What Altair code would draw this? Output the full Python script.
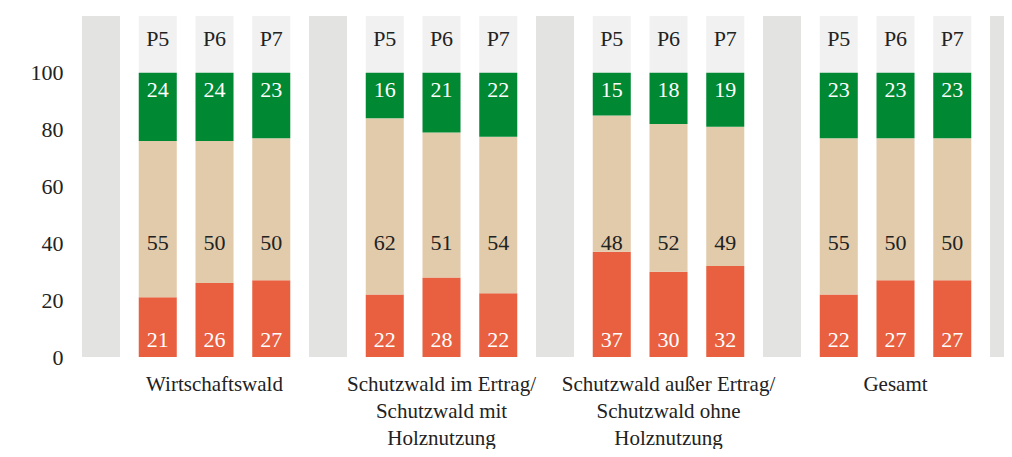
import altair as alt
import pandas as pd

groups = [
    "Wirtschaftswald",
    "Schutzwald im Ertrag/\nSchutzwald mit\nHolznutzung",
    "Schutzwald außer Ertrag/\nSchutzwald ohne\nHolznutzung",
    "Gesamt",
]
periods = ["P5", "P6", "P7"]
series = ["rot", "beige", "grün"]
red_vals = [21, 26, 27, 22, 28, 22, 37, 30, 32, 22, 27, 27]
tan_vals = [55, 50, 50, 62, 51, 54, 48, 52, 49, 55, 50, 50]
green_vals = [24, 24, 23, 16, 21, 22, 15, 18, 19, 23, 23, 23]
y_ticks = [0, 20, 40, 60, 80, 100]

COLORS = {"rot": "#E8603F", "beige": "#E1CBAB", "grün": "#008833"}
BAR_W = 0.67
FONT = "Liberation Serif"
PITCH = 56.75
PLOT_W = 922
PLOT_H = 341

rows = []
bars = []
for gi, g in enumerate(groups):
    for pi, p in enumerate(periods):
        k = gi * 3 + pi
        slot = gi * 4 + pi + 1
        bars.append({"group": g, "period": p, "x0": slot, "x1": slot + BAR_W, "xc": slot + BAR_W / 2})
        for si, (s, vals) in enumerate(zip(series, [red_vals, tan_vals, green_vals])):
            rows.append({"group": g, "period": p, "slot": slot, "x0": slot, "x1": slot + BAR_W,
                         "xc": slot + BAR_W / 2, "series": s, "order": si, "value": vals[k]})
df = pd.DataFrame(rows)
df_bars = pd.DataFrame(bars)
band_slots = [gi * 4 for gi in range(len(groups) + 1)]
df_bands = pd.DataFrame({"x0": band_slots, "x1": [s + BAR_W for s in band_slots]})
df_groups = pd.DataFrame({"group": groups, "xc": [gi * 4 + 2 + BAR_W / 2 for gi in range(len(groups))]})

xscale = alt.Scale(domain=[0, PLOT_W / PITCH], nice=False, zero=False)
yscale = alt.Scale(domain=[0, 120], nice=False, zero=True)
yaxis = alt.Axis(values=y_ticks, title=None, domain=False, ticks=False, grid=False,
                 labelPadding=19, labelFontSize=22, labelFont=FONT, labelColor="#222222")

bands = alt.Chart(df_bands).mark_rect(color="#E3E3E1", clip=True).encode(
    x=alt.X("x0:Q", scale=xscale, axis=None),
    x2="x1:Q",
    y=alt.Y(datum=0, scale=yscale, axis=yaxis),
    y2=alt.Y2(datum=120),
)

label_bg = alt.Chart(df_bars).mark_rect(color="#F1F1F1").encode(
    x=alt.X("x0:Q", scale=xscale, axis=None),
    x2="x1:Q",
    y=alt.Y(datum=100, scale=yscale, axis=yaxis),
    y2=alt.Y2(datum=120),
)

stacked = alt.Chart(df).transform_joinaggregate(
    total="sum(value)", groupby=["slot"]
).transform_calculate(
    pct="datum.value / datum.total * 100"
).transform_stack(
    stack="pct", as_=["y0", "y1"], groupby=["slot"], sort=[alt.SortField("order")]
)

bar_layer = stacked.mark_rect().encode(
    x=alt.X("x0:Q", scale=xscale, axis=None),
    x2="x1:Q",
    y=alt.Y("y0:Q", scale=yscale, axis=yaxis),
    y2="y1:Q",
    color=alt.Color("series:N", scale=alt.Scale(domain=series, range=[COLORS[s] for s in series]), legend=None),
)

def value_text(sname, ypos, dy, color):
    return alt.Chart(df[df["series"] == sname]).mark_text(
        font=FONT, fontSize=22, color=color, baseline="alphabetic", dy=dy
    ).encode(
        x=alt.X("xc:Q", scale=xscale, axis=None),
        y=alt.Y(datum=ypos, scale=yscale, axis=yaxis),
        text="value:Q",
    )

red_text = value_text("rot", 0, -10, "white")
tan_text = value_text("beige", 40, 7, "#222222")
green_text = value_text("grün", 100, 24, "white")

period_text = alt.Chart(df_bars).mark_text(
    font=FONT, fontSize=22, color="#222222", baseline="alphabetic", dy=2
).encode(
    x=alt.X("xc:Q", scale=xscale, axis=None),
    y=alt.Y(datum=110, scale=yscale, axis=yaxis),
    text="period:N",
)

group_text = alt.Chart(df_groups).mark_text(
    font=FONT, fontSize=21, color="#222222", baseline="alphabetic", lineBreak="\n", lineHeight=27
).encode(
    x=alt.X("xc:Q", scale=xscale, axis=None),
    y=alt.Y(datum=-11.8, scale=yscale, axis=yaxis),
    text="group:N",
)

chart = alt.layer(
    bands, label_bg, bar_layer, red_text, tan_text, green_text, period_text, group_text
).properties(
    width=PLOT_W, height=PLOT_H,
    autosize=alt.AutoSizeParams(type="none"),
    padding={"left": 74, "top": 8, "right": 0, "bottom": 92},
    background="white",
).configure_view(stroke=None)

chart.save("out.html", embed_options={"renderer": "svg", "actions": False})
